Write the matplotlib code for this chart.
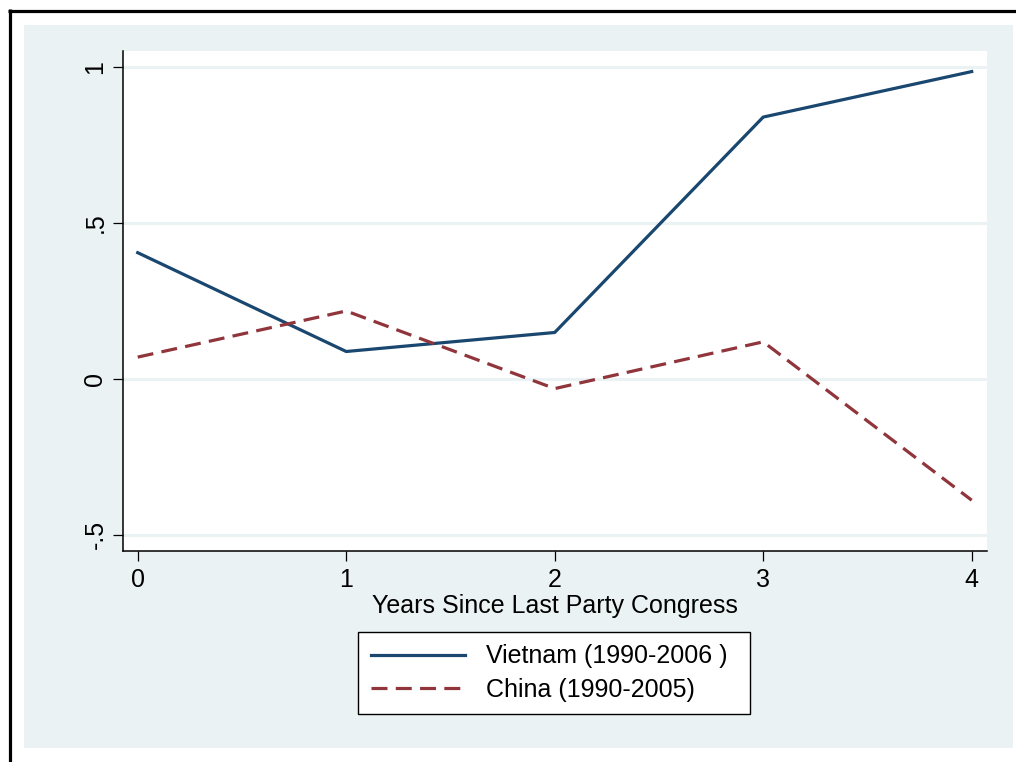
import matplotlib
matplotlib.use("Agg")
import matplotlib.pyplot as plt
from matplotlib.lines import Line2D
from matplotlib.patches import Rectangle

plt.rcParams['font.family'] = ['Liberation Sans', 'DejaVu Sans']

years = [0, 1, 2, 3, 4]
vietnam = [0.405, 0.088, 0.149, 0.840, 0.986]
china = [0.070, 0.218, -0.031, 0.119, -0.389]
xticks = [0, 1, 2, 3, 4]
yticks = [-0.5, 0, 0.5, 1]
yticklabels = ["-.5", "0", ".5", "1"]
labels = ["Vietnam (1990-2006 )", "China (1990-2005)"]
xlabel = "Years Since Last Party Congress"

W, H = 1016, 762
fig = plt.figure(figsize=(W / 100, H / 100), dpi=100, facecolor='white')

bg = '#eaf2f3'
fig.patches.append(Rectangle((24 / W, 1 - 748 / H), (1013 - 24) / W, (748 - 25) / H,
                             transform=fig.transFigure, facecolor=bg, edgecolor='none', zorder=-5))
fig.lines.append(Line2D([8 / W, 1.0], [1 - 10.5 / H, 1 - 10.5 / H], transform=fig.transFigure,
                        color='black', linewidth=2.3, solid_capstyle='butt', zorder=5))
fig.lines.append(Line2D([9.5 / W, 9.5 / W], [0, 1 - 9 / H], transform=fig.transFigure,
                        color='black', linewidth=2.3, solid_capstyle='butt', zorder=5))

ax = fig.add_axes([122.7 / W, 1 - 551 / H, (986.7 - 122.7) / W, (551 - 51) / H])
ax.set_zorder(1)
ax.set_facecolor('white')
ax.set_xlim(-0.072, 4.072)
ax.set_ylim(-0.552, 1.052)

for yv in yticks:
    ax.axhline(yv, color=bg, linewidth=2.2, zorder=1)

ax.plot(years, vietnam, color='#1a476f', linewidth=2.3, zorder=3, label=labels[0])
ax.plot(years, china, color='#90353b', linewidth=2.3, linestyle=(0, (5, 2.6)), zorder=3, label=labels[1])

for s in ['top', 'right']:
    ax.spines[s].set_visible(False)
for s in ['left', 'bottom']:
    ax.spines[s].set_linewidth(1.1)
    ax.spines[s].set_color('black')

ax.set_xticks(xticks)
ax.set_xticklabels([str(x) for x in xticks], fontsize=18)
ax.set_yticks(yticks)
ax.set_yticklabels(yticklabels, fontsize=18, rotation=90, va='center')
ax.tick_params(axis='both', direction='out', length=7, width=0.9, color='black', pad=4)
ax.tick_params(axis='x', pad=5)
ax.set_xlabel(xlabel, fontsize=18, labelpad=1.5)

leg = fig.legend(loc='upper left', bbox_to_anchor=(358 / W, 1 - 714 / H, 392 / W, 82 / H),
                 mode='expand',
                 fontsize=18, frameon=True, fancybox=False, edgecolor='black',
                 handlelength=3.76, handletextpad=0.84, borderpad=0.5,
                 labelspacing=0.36, borderaxespad=0)
leg.get_frame().set_linewidth(1.0)
leg.get_frame().set_facecolor('white')
leg.get_frame().set_alpha(1)

fig.savefig('out.png', dpi=100, facecolor='white')
